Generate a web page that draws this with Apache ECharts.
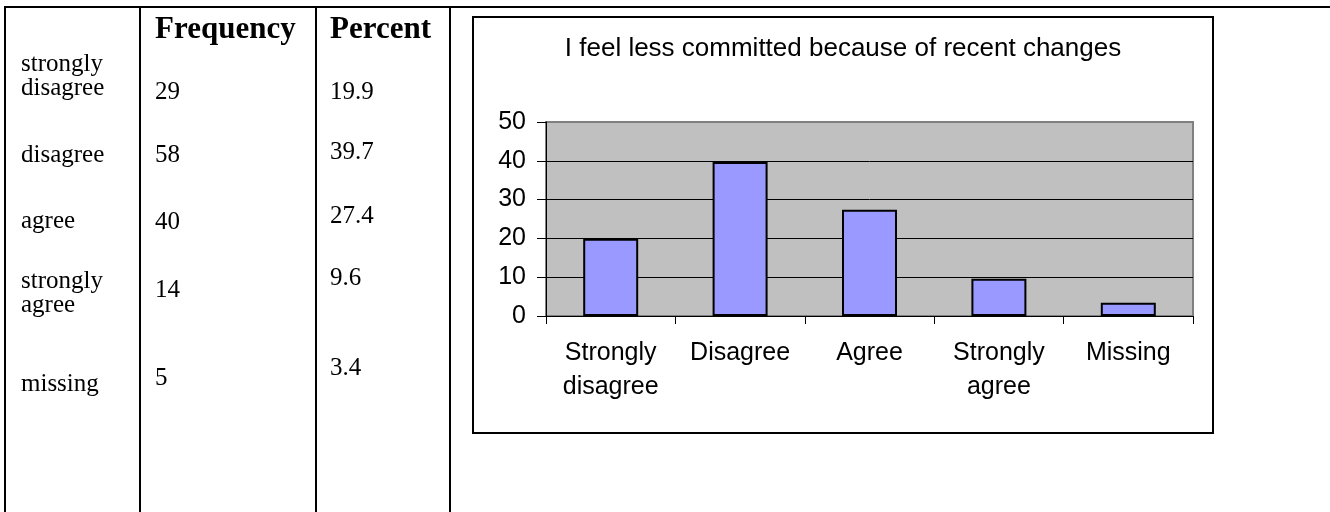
<!DOCTYPE html>
<html>
<head>
<meta charset="utf-8">
<title>I feel less committed because of recent changes</title>
<script src="https://cdn.jsdelivr.net/npm/echarts@6/dist/echarts.min.js"></script>
<style>
  html, body { margin: 0; padding: 0; background: #ffffff; }
  #chart { width: 1330px; height: 512px; }
</style>
</head>
<body>
<div id="chart"></div>
<script>
// Survey item: "I feel less committed because of recent changes"
const rowLabels = ['strongly\ndisagree', 'disagree', 'agree', 'strongly\nagree', 'missing'];
const frequencies = [29, 58, 40, 14, 5];
const percents = [19.9, 39.7, 27.4, 9.6, 3.4];
const categories = ['Strongly\ndisagree', 'Disagree', 'Agree', 'Strongly\nagree', 'Missing'];
const tableHeaders = ['Frequency', 'Percent'];
const chartTitle = 'I feel less committed because of recent changes';
const yAxisMin = 0;
const yAxisMax = 50;
const yAxisStep = 10;

// Table layout (vertical centres of each row's text in the three columns)
const labelRowY = [76, 155, 221, 293, 384];
const freqRowY = [92, 155, 222, 290, 378];
const pctRowY = [92, 152, 216, 278, 368];

const serif = '"Liberation Serif", "Times New Roman", serif';
const sans = '"Liberation Sans", Arial, sans-serif';

const graphics = [];

// chart frame behind the plot
graphics.push({
  type: 'rect', z: -10,
  shape: { x: 473, y: 17, width: 740, height: 416 },
  style: { fill: '#ffffff', stroke: '#000000', lineWidth: 2 }
});
graphics.push({
  type: 'text',
  style: { text: chartTitle, x: 843, y: 49, align: 'center', verticalAlign: 'middle',
           font: '26px ' + sans, fill: '#000000' }
});

// table rules
graphics.push({ type: 'line', shape: { x1: 4, y1: 7, x2: 1330, y2: 7 }, style: { stroke: '#000', lineWidth: 2 } });
[5, 140, 316, 450].forEach(function (x) {
  graphics.push({ type: 'line', shape: { x1: x, y1: 6, x2: x, y2: 512 }, style: { stroke: '#000', lineWidth: 2 } });
});

// header cells
graphics.push({ type: 'text', style: { text: tableHeaders[0], x: 155, y: 30, verticalAlign: 'middle',
  font: 'bold 31px ' + serif, fill: '#000' } });
graphics.push({ type: 'text', style: { text: tableHeaders[1], x: 330, y: 30, verticalAlign: 'middle',
  font: 'bold 31px ' + serif, fill: '#000' } });

// body cells
rowLabels.forEach(function (label, i) {
  graphics.push({ type: 'text', style: { text: label, x: 21, y: labelRowY[i], verticalAlign: 'middle',
    font: '25px ' + serif, lineHeight: 24, fill: '#000' } });
  graphics.push({ type: 'text', style: { text: String(frequencies[i]), x: 155, y: freqRowY[i], verticalAlign: 'middle',
    font: '25px ' + serif, fill: '#000' } });
  graphics.push({ type: 'text', style: { text: percents[i].toFixed(1), x: 330, y: pctRowY[i], verticalAlign: 'middle',
    font: '25px ' + serif, fill: '#000' } });
});

const chart = echarts.init(document.getElementById('chart'), null, { renderer: 'canvas' });
chart.setOption({
  animation: false,
  backgroundColor: '#ffffff',
  graphic: graphics,
  grid: {
    left: 546, top: 122, right: 137, bottom: 196,
    show: true, backgroundColor: '#c0c0c0', borderColor: '#808080', borderWidth: 2
  },
  xAxis: {
    type: 'category',
    data: categories,
    axisLine: { show: true, lineStyle: { color: '#000', width: 1 } },
    axisTick: { show: true, length: 8, lineStyle: { color: '#000' } },
    axisLabel: { interval: 0, margin: 20, color: '#000', fontFamily: sans, fontSize: 25, lineHeight: 34, align: 'center' },
    splitLine: { show: false }
  },
  yAxis: {
    type: 'value',
    min: yAxisMin, max: yAxisMax, interval: yAxisStep,
    axisLine: { show: true, lineStyle: { color: '#000', width: 1 } },
    axisTick: { show: true, length: 9, lineStyle: { color: '#000' } },
    axisLabel: { margin: 20, color: '#000', fontFamily: sans, fontSize: 25 },
    splitLine: { show: true, lineStyle: { color: ['#000', '#000', '#000', '#000', '#000', '#808080'], width: 1 } }
  },
  series: [{
    type: 'bar',
    data: percents,
    barWidth: '42.5%',
    itemStyle: { color: '#9999ff', borderColor: '#000', borderWidth: 2 }
  }]
});
</script>
</body>
</html>
